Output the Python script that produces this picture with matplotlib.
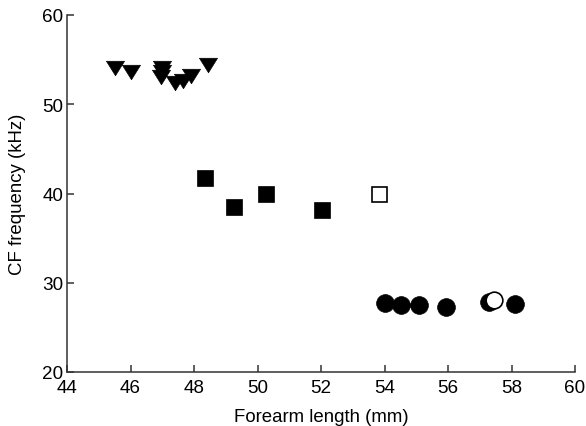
import matplotlib
matplotlib.use("Agg")
import matplotlib.pyplot as plt

plt.rcParams['font.family'] = ['Liberation Sans', 'DejaVu Sans']

# Triangles (filled, downward)
tri_x = [45.5, 46.0, 47.0, 47.0, 46.95, 47.4, 47.65, 47.9, 48.45]
tri_y = [54.1, 53.6, 54.1, 53.6, 53.0, 52.4, 52.6, 53.15, 54.4]

# Filled squares
sq_x = [48.36, 49.26, 50.26, 52.03]
sq_y = [41.76, 38.52, 39.9, 38.1]

# Open square
osq_x = [53.83]
osq_y = [39.98]

# Filled circles
ci_x = [54.0, 54.52, 55.09, 55.93, 57.3, 58.12]
ci_y = [27.75, 27.49, 27.5, 27.25, 27.85, 27.65]

# Open circle
oci_x = [57.45]
oci_y = [28.1]

xticks = [44, 46, 48, 50, 52, 54, 56, 58, 60]
yticks = [20, 30, 40, 50, 60]

fig = plt.figure(figsize=(5.86, 4.27), dpi=100)
ax = fig.add_axes([67/586, 1-373/427, 508/586, 357/427])

tri_marker = [(-1.0, 0.8), (1.0, 0.8), (0, -0.8), (-1.0, 0.8)]

ax.plot(tri_x, tri_y, linestyle='none', marker=tri_marker, ms=13,
        mfc='black', mec='black', mew=0.5, clip_on=False)
ax.plot(sq_x, sq_y, linestyle='none', marker='s', ms=11.5,
        mfc='black', mec='black', mew=0.5)
ax.plot(osq_x, osq_y, linestyle='none', marker='s', ms=10.8,
        mfc='white', mec='black', mew=1.2)
ax.plot(ci_x, ci_y, linestyle='none', marker='o', ms=12.8,
        mfc='black', mec='black', mew=0.5)
ax.plot(oci_x, oci_y, linestyle='none', marker='o', ms=12.0,
        mfc='white', mec='black', mew=1.2)

ax.set_xlim(44, 60)
ax.set_ylim(20, 60)
ax.set_xticks(xticks)
ax.set_yticks(yticks)

for s in ['top', 'right']:
    ax.spines[s].set_visible(False)
for s in ['left', 'bottom']:
    ax.spines[s].set_linewidth(1.1)
    ax.spines[s].set_color('#333333')

ax.tick_params(direction='in', length=5, width=1.1, color='#333333',
               labelsize=13.6, labelcolor='black')
ax.tick_params(axis='y', pad=2.5)
ax.tick_params(axis='x', pad=5)

ax.set_xlabel('Forearm length (mm)', fontsize=13.4, labelpad=9)
ax.set_ylabel('CF frequency (kHz)', fontsize=13.4, labelpad=12)

fig.savefig('out.png', dpi=100)
